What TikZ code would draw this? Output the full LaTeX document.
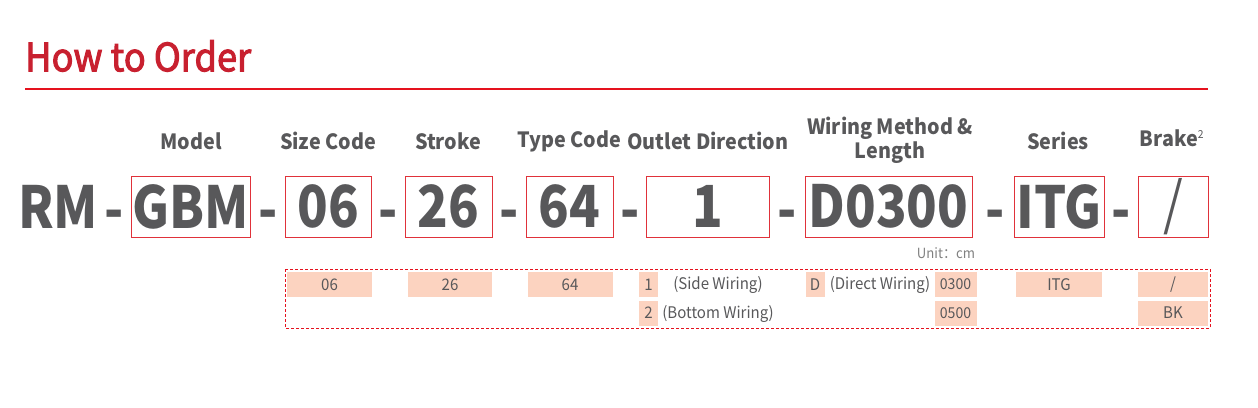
\documentclass[tikz,border=0pt]{standalone}
\usepackage{fontspec}
\setmainfont{Noto Sans CJK SC}[FakeStretch=0.94]
\newfontfamily\codefont{Noto Sans CJK SC}[FakeStretch=0.87]
\newfontfamily\titlefont{Noto Sans CJK SC}[FakeStretch=0.93, FakeBold=2.5]
\usetikzlibrary{positioning}
\definecolor{titlered}{HTML}{C8202F}
\definecolor{linered}{HTML}{E5121E}
\definecolor{boxred}{HTML}{E0323A}
\definecolor{txtgray}{HTML}{58585A}
\definecolor{fillpeach}{HTML}{FCD3C0}
\tikzset{
  head/.style={font=\fontsize{21}{24}\selectfont\bfseries, text=txtgray, align=center, inner sep=0pt},
  code/.style={font=\codefont\fontsize{58}{58}\selectfont\bfseries, text=txtgray, inner sep=0pt},
  codebox/.style={draw=boxred, line width=1pt, minimum height=61pt, inner sep=0pt,
    font=\codefont\fontsize{58}{58}\selectfont\bfseries, text=txtgray},
  opt/.style={fill=fillpeach, minimum height=25pt, inner sep=0pt,
    font=\fontsize{16}{16}\selectfont, text=txtgray},
  note/.style={font=\fontsize{16}{16}\selectfont, text=txtgray, inner sep=0pt},
}
\begin{document}
\begin{tikzpicture}[x=1pt, y=-1pt]
    \useasboundingbox (0,0) rectangle (1258,407);
    % title
    \node(title) at (25,56) [anchor=west, inner sep=0pt, text=titlered,
        font=\titlefont\fontsize{39}{39}\selectfont] {How to Order};
    \draw[linered, line width=2pt] (25,88.5) -- (1208,88.5);
    % headings
    \node(hmodel)  at ( 191,141) [head] {Model};
    \node(hsize)   at ( 328,141) [head] {Size Code};
    \node(hstroke) at ( 448,141) [head] {Stroke};
    \node(htype)   at ( 569,141) [head] {Type Code};
    \node(hout)    at ( 708,141) [head] {Outlet Direction};
    \node(hwire)   at ( 890,140) [head] {Wiring Method \&\\Length};
    \node(hseries) at (1058,141) [head] {Series};
    \node(hbrake)  at (1172,138) [head] {Brake\textsuperscript{\mdseries\fontsize{11}{11}\selectfont 2}};
    % code row
    \node(rm)    at (  58,206.5) [code] {RM};
    \node(gbm)   at (190.5,206.5) [codebox, minimum width=119pt] {GBM};
    \node(size)  at ( 328,206.5) [codebox, minimum width=86pt]  {06};
    \node(strk)  at (448.5,206.5) [codebox, minimum width=87pt] {26};
    \node(type)  at (569.5,206.5) [codebox, minimum width=87pt] {64};
    \node(outl)  at (707.5,206.5) [codebox, minimum width=123pt] {1};
    \node(wire)  at (888.5,206.5) [codebox, minimum width=167pt] {D0300};
    \node(series) at (1059,206.5) [codebox, minimum width=90pt] {ITG};
    \node(brake) at (1173,206.5) [codebox, minimum width=70pt, font=\codefont\fontsize{58}{58}\selectfont] {/};
    \node(d1) at ( 114,220) [code] {-};
    \node(d2) at ( 268,220) [code] {-};
    \node(d3) at ( 388,220) [code] {-};
    \node(d4) at ( 509,220) [code] {-};
    \node(d5) at ( 630,220) [code] {-};
    \node(d6) at ( 787,220) [code] {-};
    \node(d7) at ( 995,220) [code] {-};
    \node(d8) at (1121,220) [code] {-};
    \node(unit) at (946,253) [note, font=\fontsize{14}{14}\selectfont, text=gray] {Unit：cm};
    % options
    \draw[linered, dash pattern=on 3pt off 2pt, line width=1pt] (285,269) rectangle (1210,328);
    \node(o06)   at (329.5,284.5) [opt, minimum width=85pt] {06};
    \node(o26)   at ( 450,284.5) [opt, minimum width=84pt] {26};
    \node(o64)   at ( 570,284.5) [opt, minimum width=85pt] {64};
    \node(o1)    at (648.5,284.5) [opt, minimum width=19pt] {1};
    \node(o2)    at (648.5,313)  [opt, minimum width=19pt] {2};
    \node(side)  at ( 718,285) [note] {(Side Wiring)};
    \node(bott)  at ( 718,313.5) [note] {(Bottom Wiring)};
    \node(od)    at ( 815,284.5) [opt, minimum width=19pt] {D};
    \node(dir)   at ( 880,285) [note] {(Direct Wiring)};
    \node(o0300) at (955.5,284.5) [opt, minimum width=42pt, font=\fontsize{15}{15}\selectfont] {0300};
    \node(o0500) at (955.5,313)  [opt, minimum width=42pt, font=\fontsize{15}{15}\selectfont] {0500};
    \node(oitg)  at (1059,284.5) [opt, minimum width=86pt] {ITG};
    \node(onone) at (1173,284.5) [opt, minimum width=70pt] {/};
    \node(obk)   at (1173,313)  [opt, minimum width=70pt] {BK};
\end{tikzpicture}
\end{document}
